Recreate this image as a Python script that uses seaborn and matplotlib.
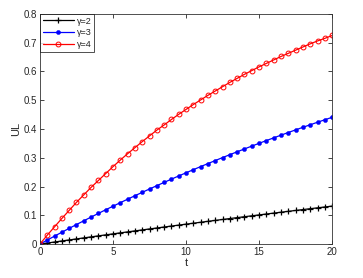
import numpy as np
import pandas as pd
import seaborn as sns
import matplotlib.pyplot as plt

t = [i * 0.5 for i in range(41)]

ul_g2 = [0, .00363, .00724, .01084, .01442, .01797, .02152, .02504, .02855, .03203,
         .03550, .03896, .04240, .04582, .04922, .05260, .05597, .05932, .06266, .06598,
         .06928, .07257, .07584, .07909, .08233, .08555, .08876, .09194, .09512, .09828,
         .10142, .10455, .10766, .11075, .11384, .11690, .11995, .12299, .12601, .12902,
         .13201]
ul_g3 = [0, .0139, .0277, .0412, .0546, .0679, .0809, .0938, .1066, .1192,
         .1316, .1439, .1560, .1680, .1798, .1915, .2030, .2144, .2257, .2368,
         .2477, .2586, .2693, .2798, .2903, .3006, .3108, .3208, .3307, .3406,
         .3502, .3598, .3692, .3786, .3878, .3969, .4059, .4147, .4235, .4321,
         .4407]
ul_g4 = [0, .031, .060, .089, .117, .145, .171, .197, .221, .245,
         .269, .292, .314, .335, .356, .376, .396, .414, .433, .451,
         .468, .485, .501, .517, .532, .547, .562, .576, .590, .603,
         .616, .628, .640, .652, .663, .674, .685, .696, .706, .715,
         .725]

sns.set_style("ticks")
plt.rcParams['font.family'] = ['Liberation Sans', 'DejaVu Sans']
plt.rcParams['xtick.direction'] = 'in'
plt.rcParams['ytick.direction'] = 'in'

fig = plt.figure(figsize=(3.63, 2.78), dpi=100)
ax = fig.add_axes([0.110, 0.122, 0.805, 0.828])

sns.lineplot(x=t, y=ul_g2, color='black', marker='+', markersize=4.5,
             markeredgecolor='black', markeredgewidth=0.9, linewidth=0.9,
             label='γ=2', ax=ax)
sns.lineplot(x=t, y=ul_g3, color='blue', marker='o', markersize=3,
             markeredgecolor='blue', markeredgewidth=0.3, linewidth=0.9,
             label='γ=3', ax=ax)
sns.lineplot(x=t, y=ul_g4, color='red', marker='o', markersize=3.5,
             markerfacecolor='none', markeredgecolor='red', markeredgewidth=0.7,
             linewidth=0.9, label='γ=4', ax=ax)

ax.set_xlim(0, 20)
ax.set_ylim(0, 0.8)
ax.set_xticks([0, 5, 10, 15, 20])
ax.set_yticks([0, 0.1, 0.2, 0.3, 0.4, 0.5, 0.6, 0.7, 0.8])
ax.set_yticklabels(['0', '0.1', '0.2', '0.3', '0.4', '0.5', '0.6', '0.7', '0.8'])
ax.tick_params(labelsize=7, length=3, width=0.6, top=True, right=True, pad=2)
for s in ax.spines.values():
    s.set_linewidth(0.6)
    s.set_color('#333333')
ax.set_xlabel('t', fontsize=8, labelpad=1)
ax.set_ylabel('UL', fontsize=8, labelpad=2)

leg = ax.legend(loc='upper left', fontsize=6.5, frameon=True, fancybox=False,
                borderaxespad=0, handlelength=3.5, borderpad=0.3,
                labelspacing=0.3, handletextpad=0.3)
leg.get_frame().set_edgecolor('black')
leg.get_frame().set_linewidth(0.6)

plt.savefig('out.png', dpi=100)
